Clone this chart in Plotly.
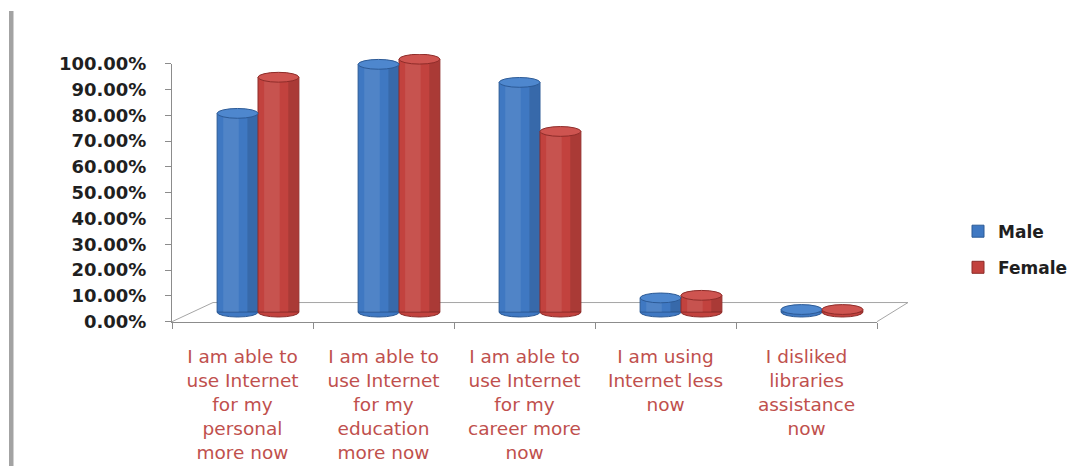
import plotly.graph_objects as go

# Survey statements (x categories) and share of respondents agreeing, by gender
categories = [
    "I am able to<br>use Internet<br>for my<br>personal<br>more now",
    "I am able to<br>use Internet<br>for my<br>education<br>more now",
    "I am able to<br>use Internet<br>for my<br>career more<br>now",
    "I am using<br>Internet less<br>now",
    "I disliked<br>libraries<br>assistance<br>now",
]
male = [0.77, 0.96, 0.89, 0.055, 0.01]
female = [0.91, 0.98, 0.70, 0.065, 0.01]
y_ticks = [i / 10 for i in range(11)]

W, H = 1086, 476
BLUE, BLUE_DARK, BLUE_LIGHT = "#3F78C2", "#2C5A96", "#4E87CE"
RED, RED_DARK, RED_LIGHT = "#C2423E", "#8E2C29", "#CE5450"

BAR_W = 0.29
series = [
    ("Male", male, -BAR_W, BLUE, BLUE_DARK, BLUE_LIGHT),
    ("Female", female, 0.0, RED, RED_DARK, RED_LIGHT),
]
xs = list(range(len(categories)))

fig = go.Figure()

# the front axes carry the labels only
fig.add_trace(go.Scatter(x=xs, y=[None] * len(xs), xaxis="x", yaxis="y",
                         mode="markers", showlegend=False, hoverinfo="skip"))

shapes = []
CAP = 0.019  # half height of the cylinder end ellipses, in axis units

for name, vals, off, col, dark, light in series:
    # cylinder body
    fig.add_trace(go.Bar(
        x=xs, y=vals, name=name, xaxis="x2", yaxis="y2",
        offset=off, width=BAR_W, marker=dict(color=col, line=dict(color=dark, width=1)),
        legendgroup=name, hovertemplate="%{y:.2%}<extra>" + name + "</extra>",
    ))
    # soft highlight and shadow strips for the rounded look
    fig.add_trace(go.Bar(
        x=xs, y=vals, xaxis="x2", yaxis="y2", showlegend=False, hoverinfo="skip",
        offset=off + BAR_W * 0.15, width=BAR_W * 0.38,
        marker=dict(color="rgba(255,255,255,0.09)", line=dict(width=0)),
    ))
    fig.add_trace(go.Bar(
        x=xs, y=vals, xaxis="x2", yaxis="y2", showlegend=False, hoverinfo="skip",
        offset=off + BAR_W * 0.74, width=BAR_W * 0.24,
        marker=dict(color="rgba(0,0,0,0.12)", line=dict(width=0)),
    ))
    for x, v in zip(xs, vals):
        x0, x1 = x + off, x + off + BAR_W
        # rounded base
        shapes.append(dict(type="circle", xref="x2", yref="y2", layer="below",
                           x0=x0, x1=x1, y0=-CAP, y1=CAP,
                           fillcolor=col, line=dict(color=dark, width=1)))
        # top cap
        shapes.append(dict(type="circle", xref="x2", yref="y2", layer="above",
                           x0=x0, x1=x1, y0=v - CAP, y1=v + CAP,
                           fillcolor=light, line=dict(color=dark, width=1)))

# perspective floor outline
def px(x):
    return x / W

def py(y):
    return 1 - y / H

floor_col = "#A6A6A6"
for (xa, ya), (xb, yb) in [((213, 305), (908, 305)),
                           ((172, 325), (213, 305)),
                           ((877, 325), (908, 305))]:
    shapes.append(dict(type="line", xref="paper", yref="paper", layer="below",
                       x0=px(xa), y0=py(ya), x1=px(xb), y1=py(yb),
                       line=dict(color=floor_col, width=1)))

# page border on the left
shapes.append(dict(type="rect", xref="paper", yref="paper", layer="below",
                   x0=px(9), x1=px(13.5), y0=0, y1=1,
                   fillcolor="#A3A3A3", line=dict(width=0)))

axis_col = "#8C8C8C"
Y2_MIN = -0.04
PX_PER_UNIT = 270
fig.update_layout(
    width=W, height=H,
    margin=dict(l=0, r=0, t=0, b=0),
    paper_bgcolor="white", plot_bgcolor="rgba(0,0,0,0)",
    barmode="overlay",
    showlegend=True,
    legend=dict(
        x=px(958), y=py(212), xanchor="left", yanchor="top",
        font=dict(family="DejaVu Sans", size=17, color="#1F1F1F", weight="bold"),
        tracegroupgap=11, bgcolor="rgba(0,0,0,0)",
    ),
    xaxis=dict(
        domain=[px(172), px(877)], anchor="y", type="linear",
        range=[-0.5, len(categories) - 0.5],
        tickvals=xs, ticktext=categories, ticks="",
        tickfont=dict(family="DejaVu Sans", size=18.5, color="#C0504D"),
        ticklabelstandoff=18,
        minor=dict(tickmode="linear", tick0=-0.5, dtick=1, ticks="outside",
                   ticklen=6, tickcolor=axis_col, showgrid=False),
        showline=True, linecolor=axis_col, linewidth=1,
        showgrid=False, zeroline=False, fixedrange=True,
    ),
    yaxis=dict(
        domain=[py(325), py(55)], anchor="x", range=[0, 1],
        tickvals=y_ticks, tickformat=".2%",
        ticks="outside", ticklen=6, tickcolor=axis_col,
        ticklabelstandoff=15,
        tickfont=dict(family="DejaVu Sans", size=18, color="#1F1F1F", weight="bold"),
        showline=True, linecolor=axis_col, linewidth=1,
        showgrid=False, zeroline=False, fixedrange=True,
    ),
    xaxis2=dict(
        domain=[px(187.5), px(892.5)], anchor="y2",
        range=[-0.5, len(categories) - 0.5],
        visible=False, fixedrange=True,
    ),
    yaxis2=dict(
        domain=[py(315 - Y2_MIN * PX_PER_UNIT), py(45)], anchor="x2", range=[Y2_MIN, 1],
        visible=False, fixedrange=True,
    ),
    shapes=shapes,
)

fig.write_html("out.html")
